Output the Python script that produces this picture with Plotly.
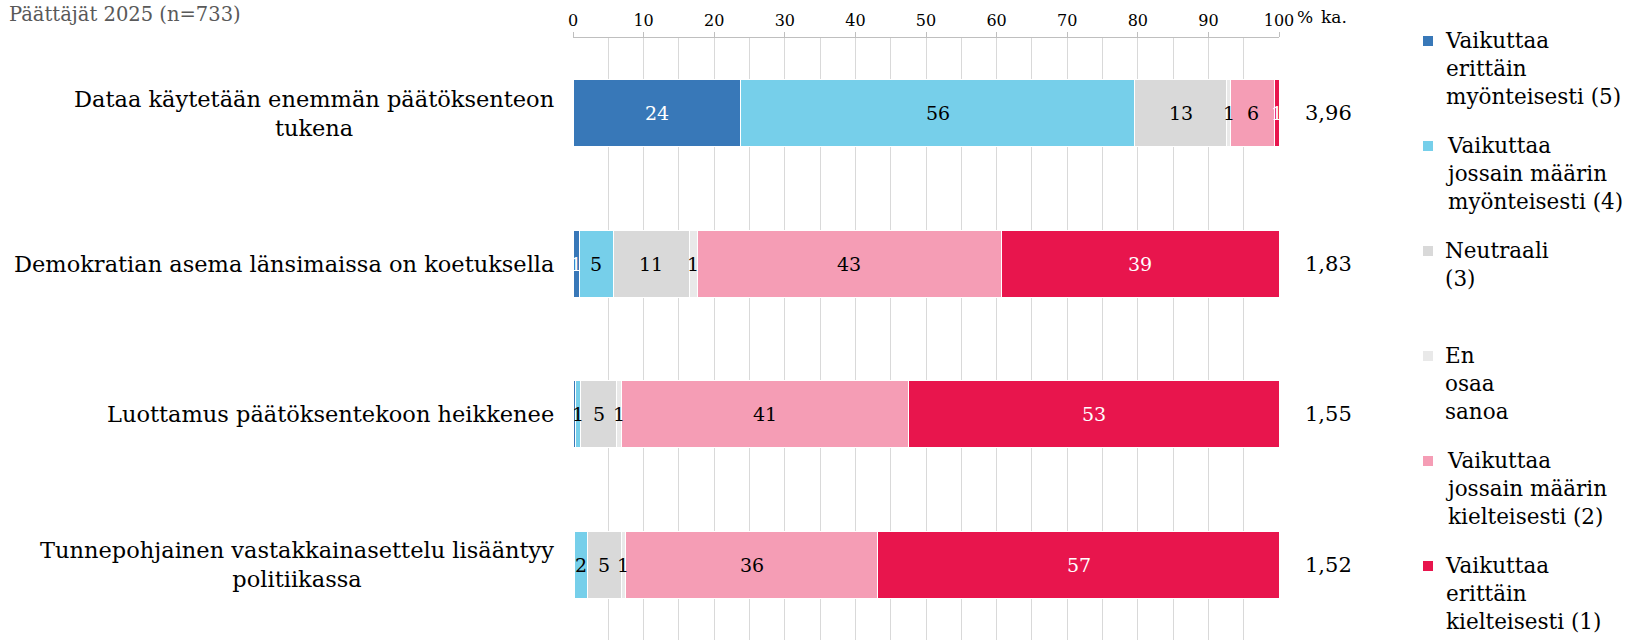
import plotly.graph_objects as go

# ---- data ----
categories = [
    "Dataa käytetään enemmän päätöksenteon<br>tukena",
    "Demokratian asema länsimaissa on koetuksella",
    "Luottamus päätöksentekoon heikkenee",
    "Tunnepohjainen vastakkainasettelu lisääntyy<br>politiikassa",
]
series_names = [
    "Vaikuttaa<br>erittäin<br>myönteisesti (5)",
    "Vaikuttaa<br>jossain määrin<br>myönteisesti (4)",
    "Neutraali<br>(3)",
    "En<br>osaa<br>sanoa",
    "Vaikuttaa<br>jossain määrin<br>kielteisesti (2)",
    "Vaikuttaa<br>erittäin<br>kielteisesti (1)",
]
very_pos = [23.7, 0.9, 0.4, 0.2]
some_pos = [55.9, 4.8, 0.7, 1.9]
neutral = [12.9, 10.8, 5.1, 4.7]
dont_know = [0.7, 1.1, 0.7, 0.6]
some_neg = [6.1, 43.1, 40.6, 35.8]
very_neg = [0.7, 39.3, 52.6, 56.8]
means = ["3,96", "1,83", "1,55", "1,52"]
x_ticks = [0, 10, 20, 30, 40, 50, 60, 70, 80, 90, 100]
title_text = "Päättäjät 2025 (n=733)"

series_values = [very_pos, some_pos, neutral, dont_know, some_neg, very_neg]
colors = ["#3878b8", "#76cfea", "#d9d9d9", "#e9e9e9", "#f59db5", "#e8154d"]
label_colors = ["white", "black", "black", "black", "black", "white"]

FONT = "DejaVu Serif"
fig = go.Figure()

for name, vals, col in zip(series_names, series_values, colors):
    fig.add_trace(go.Bar(
        y=categories, x=vals, name=name, orientation="h",
        marker=dict(color=col, line=dict(color="white", width=1)),
        showlegend=False, hoverinfo="x+name",
    ))

annotations = []
# data labels
for si, vals in enumerate(series_values):
    for ci, v in enumerate(vals):
        start = sum(series_values[k][ci] for k in range(si))
        r = int(v + 0.5)
        if r == 0:
            continue
        annotations.append(dict(
            x=start + v / 2, y=categories[ci], xref="x", yref="y",
            text=str(r), showarrow=False,
            font=dict(family=FONT, size=19, color=label_colors[si]),
        ))

# category labels
for c in categories:
    annotations.append(dict(
        x=0, y=c, xref="x", yref="y", xanchor="right", xshift=-17,
        align="center", text=c, showarrow=False,
        font=dict(family=FONT, size=22.5, color="black"),
    ))

# means
for c, m in zip(categories, means):
    annotations.append(dict(
        x=100, y=c, xref="x", yref="y", xanchor="center", xshift=49,
        text=m, showarrow=False,
        font=dict(family=FONT, size=21, color="black"),
    ))

annotations.append(dict(x=100, y=1, xref="x", yref="paper", xanchor="left",
                        yanchor="middle", xshift=16, yshift=21, text="%",
                        showarrow=False, font=dict(family=FONT, size=17, color="black")))
annotations.append(dict(x=100, y=1, xref="x", yref="paper", xanchor="center",
                        yanchor="middle", xshift=55, yshift=21, text="ka.",
                        showarrow=False, font=dict(family=FONT, size=17, color="black")))
annotations.append(dict(x=0, y=1, xref="paper", yref="paper", xanchor="left",
                        yanchor="middle", xshift=-566, yshift=24, text=title_text,
                        showarrow=False, font=dict(family=FONT, size=19.5, color="#595959")))

# legend (manual, fixed slots) -- positions in window pixels
L, W, T, H = 573, 706, 38, 602
shapes = []
for i, (name, col) in enumerate(zip(series_names, colors)):
    cy = 41 + 105 * i
    shapes.append(dict(type="rect", xref="paper", yref="paper",
                       x0=(1423 - L) / W, x1=(1433 - L) / W,
                       y0=1 - (cy + 5 - T) / H, y1=1 - (cy - 5 - T) / H,
                       fillcolor=col, line=dict(width=0)))
    annotations.append(dict(x=(1443 - L) / W, y=1 - (cy - 15 - T) / H,
                            xref="paper", yref="paper", xanchor="left", yanchor="top",
                            align="left", text=name, showarrow=False,
                            font=dict(family=FONT, size=21.5, color="black")))

fig.update_layout(
    width=1637, height=640,
    margin=dict(l=L, r=1637 - L - W, t=T, b=640 - T - H),
    barmode="stack", bargap=0.555,
    plot_bgcolor="white", paper_bgcolor="white",
    font=dict(family=FONT, color="black"),
    annotations=annotations, shapes=shapes,
    xaxis=dict(
        side="top", range=[0, 100], tickvals=x_ticks,
        tickfont=dict(family=FONT, size=16, color="black"),
        ticks="outside", ticklen=5, tickcolor="#bfbfbf",
        showline=True, linecolor="#bfbfbf", linewidth=1,
        showgrid=True, gridcolor="#d9d9d9", gridwidth=1,
        minor=dict(dtick=5, showgrid=True, gridcolor="#d9d9d9", gridwidth=1),
        zeroline=False, fixedrange=True,
    ),
    yaxis=dict(
        categoryorder="array", categoryarray=categories, autorange="reversed",
        showticklabels=False, showgrid=False, zeroline=False, showline=False,
        fixedrange=True,
    ),
)

fig.write_html("out.html", config={"displayModeBar": False},
               post_script="document.body.style.margin='0px';document.body.style.overflow='hidden';")
